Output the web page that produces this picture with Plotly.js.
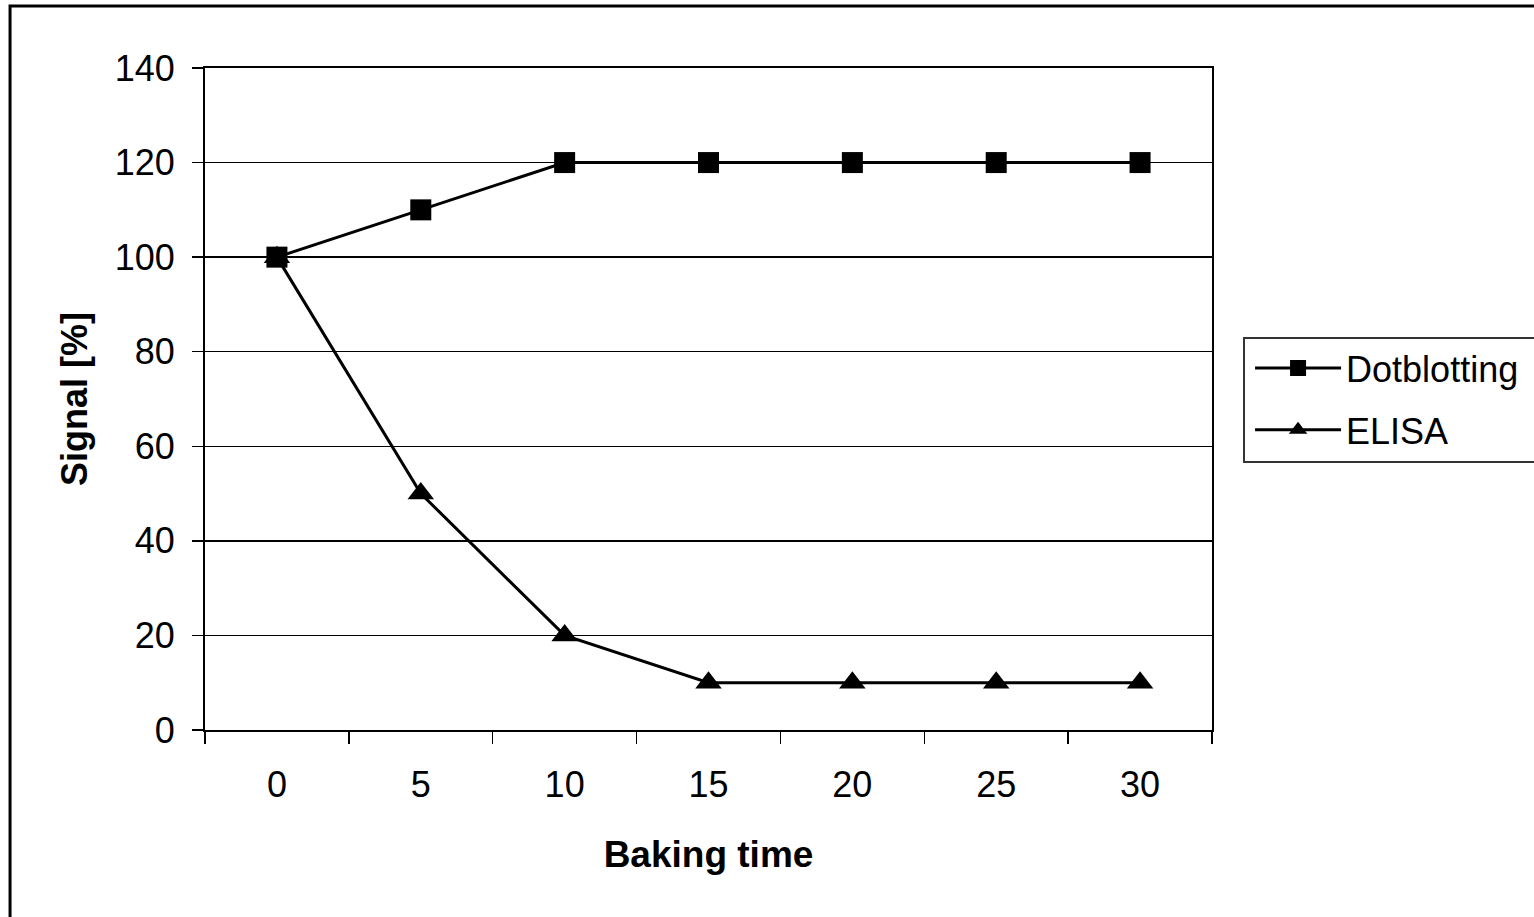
<!DOCTYPE html>
<html>
<head>
<meta charset="utf-8">
<script src="https://cdn.plot.ly/plotly-3.0.1.min.js"></script>
<style>
  html, body { margin: 0; padding: 0; background: #fff; }
  #chart { width: 1534px; height: 917px; }
</style>
</head>
<body>
<div id="chart"></div>
<script>
// Baking time categories (x axis)
const bakingTime = ['0', '5', '10', '15', '20', '25', '30'];
// Relative signal in percent for each detection method
const dotblotting = [100, 110, 120, 120, 120, 120, 120];
const elisa = [100, 50, 20, 10, 10, 10, 10];
// Y axis tick values
const yTicks = [0, 20, 40, 60, 80, 100, 120, 140];

const FONT = 'Liberation Sans, Arial, sans-serif';

const traces = [
  {
    x: bakingTime, y: dotblotting, name: 'Dotblotting',
    type: 'scatter', mode: 'lines+markers',
    line: { color: '#000', width: 3 },
    marker: { symbol: 'square', size: 21, color: '#000' },
    legendgroup: 'a'
  },
  {
    x: bakingTime, y: elisa, name: 'ELISA',
    type: 'scatter', mode: 'lines+markers',
    line: { color: '#000', width: 3 },
    marker: { symbol: 'triangle-up', size: 23, color: '#000' },
    legendgroup: 'b'
  }
];

const layout = {
  width: 1534, height: 917,
  paper_bgcolor: '#fff', plot_bgcolor: '#fff',
  font: { family: FONT, color: '#000', size: 36 },
  margin: { l: 205, r: 322, t: 68, b: 187, autoexpand: false },
  showlegend: true,
  legend: {
    x: 1.0378, y: 0.592, xanchor: 'left', yanchor: 'top',
    borderwidth: 0, bgcolor: 'rgba(0,0,0,0)',
    font: { family: FONT, size: 36, color: '#000' },
    traceorder: 'grouped', tracegroupgap: 12,
    itemwidth: 86
  },
  xaxis: {
    type: 'category', range: [-0.5, 6.5],
    tickson: 'boundaries', ticks: 'outside', ticklen: 12, tickwidth: 1.5, tickcolor: '#000',
    showgrid: false, showline: true, linecolor: '#000', linewidth: 2, mirror: true,
    tickfont: { family: FONT, size: 36 }, ticklabelstandoff: 22,
    title: { text: '<b>Baking time</b>', font: { family: FONT, size: 37 }, standoff: 37 },
    zeroline: false, fixedrange: true
  },
  yaxis: {
    range: [0, 140], tickmode: 'array', tickvals: yTicks,
    ticks: 'outside', ticklen: 11, tickwidth: 1.5, tickcolor: '#000',
    showgrid: true, gridcolor: '#000', gridwidth: 1.5,
    showline: true, linecolor: '#000', linewidth: 2, mirror: true,
    tickfont: { family: FONT, size: 36 }, ticklabelstandoff: 10,
    title: { text: '<b>Signal [%]</b>', font: { family: FONT, size: 36 }, standoff: 16 },
    zeroline: false, fixedrange: true
  },
  shapes: [
    // outer frame around the whole figure
    {
      type: 'rect', xref: 'paper', yref: 'paper',
      x0: -0.1936, x1: 1.34, y0: -0.30, y1: 1.0937,
      line: { color: '#000', width: 3 }, fillcolor: 'rgba(0,0,0,0)', layer: 'below'
    },
    // legend frame, running past the right edge of the figure
    {
      type: 'rect', xref: 'paper', yref: 'paper',
      x0: 1.0318, x1: 1.34, y0: 0.4049, y1: 0.5921,
      line: { color: '#333', width: 2 }, fillcolor: 'rgba(0,0,0,0)', layer: 'below'
    }
  ]
};

Plotly.newPlot('chart', traces, layout, { displayModeBar: false, staticPlot: true });
</script>
</body>
</html>
